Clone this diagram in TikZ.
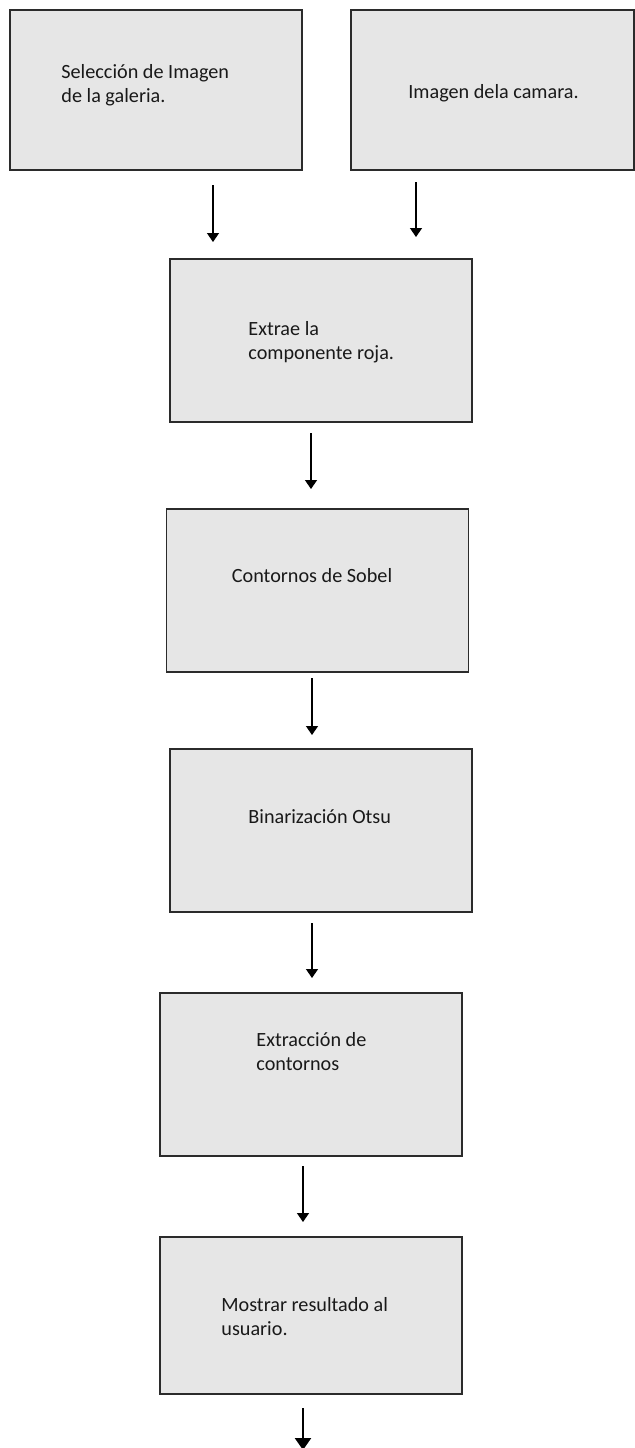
\documentclass[tikz,border=0pt]{standalone}
\usepackage{fontspec}
\setmainfont{Carlito}
\usepackage{tikz}
\usetikzlibrary{arrows.meta, positioning}
\definecolor{relleno}{HTML}{E6E6E6}
\definecolor{borde}{HTML}{2B2B2B}
\tikzset{
  caja/.style={
    rectangle, draw=borde, line width=0.7pt, fill=relleno,
    minimum width=151pt, minimum height=81.5pt, inner sep=0pt, outer sep=0pt
  },
  texto/.style={
    align=left, inner sep=0pt, text=black!90,
    font=\fontsize{10.1}{11.75}\selectfont
  },
  flecha/.style={
    -{Triangle[width=6pt,length=4.5pt]}, line width=0.7pt
  }
}

\begin{document}
\begin{tikzpicture}[
  flecha_final/.style={-{Triangle[width=8pt,length=6pt]}, line width=1.2pt}
]
\useasboundingbox (0,0) rectangle (317.5pt,-724pt);

\node[caja, minimum width=146pt, minimum height=80pt] (sel_galeria) at (78pt,-45pt) {};
\node[caja, minimum width=141.5pt, minimum height=80pt, right=24.5pt of sel_galeria] (img_camara) {};
\node[caja, below=44.5pt of sel_galeria, xshift=82.5pt] (extrae_roja) {};
\node[caja, below=43.5pt of extrae_roja, xshift=-1.75pt] (sobel) {};
\node[caja, below=38.5pt of sobel, xshift=1.75pt] (otsu) {};
\node[caja, below=40.5pt of otsu, xshift=-5pt] (ext_contornos) {};
\node[caja, minimum height=78.5pt, below=40.5pt of ext_contornos] (mostrar) {};

\node[texto, below right=27.25pt and 25.5pt of sel_galeria.north west] (t_galeria) {Selección de Imagen\\de la galeria.};
\node[texto, below right=37.25pt and 28.5pt of img_camara.north west] (t_camara) {Imagen dela camara.};
\node[texto, below right=31.25pt and 39pt of extrae_roja.north west] (t_roja) {Extrae la\\componente roja.};
\node[texto, below right=29.75pt and 32.5pt of sobel.north west] (t_sobel) {Contornos de Sobel};
\node[texto, below right=30.25pt and 39pt of otsu.north west] (t_otsu) {Binarización Otsu};
\node[texto, below right=19.75pt and 48pt of ext_contornos.north west] (t_contornos) {Extracción de\\contornos};
\node[texto, below right=30.25pt and 30.5pt of mostrar.north west] (t_mostrar) {Mostrar resultado al\\usuario.};

\coordinate[below=28pt of mostrar.south, xshift=-4pt] (salida);

\draw[flecha, shorten <=7.5pt, shorten >=8.5pt] ([xshift=28.5pt]sel_galeria.south) -- ([xshift=-54pt]extrae_roja.north);
\draw[flecha, shorten <=6pt, shorten >=11pt] ([xshift=-38.25pt]img_camara.south) -- ([xshift=47.5pt]extrae_roja.north);
\draw[flecha, shorten <=5.5pt, shorten >=10pt] ([xshift=-5pt]extrae_roja.south) -- ([xshift=-3.25pt]sobel.north);
\draw[flecha, shorten <=3pt, shorten >=7pt] ([xshift=-2.75pt]sobel.south) -- ([xshift=-4.5pt]otsu.north);
\draw[flecha, shorten <=5.5pt, shorten >=7.5pt] ([xshift=-4.5pt]otsu.south) -- ([xshift=0.5pt]ext_contornos.north);
\draw[flecha, shorten <=5pt, shorten >=7.5pt] ([xshift=-4pt]ext_contornos.south) -- ([xshift=-4pt]mostrar.north);
\draw[flecha_final, shorten <=7pt] ([xshift=-4pt]mostrar.south) -- (salida);

\end{tikzpicture}
\end{document}
